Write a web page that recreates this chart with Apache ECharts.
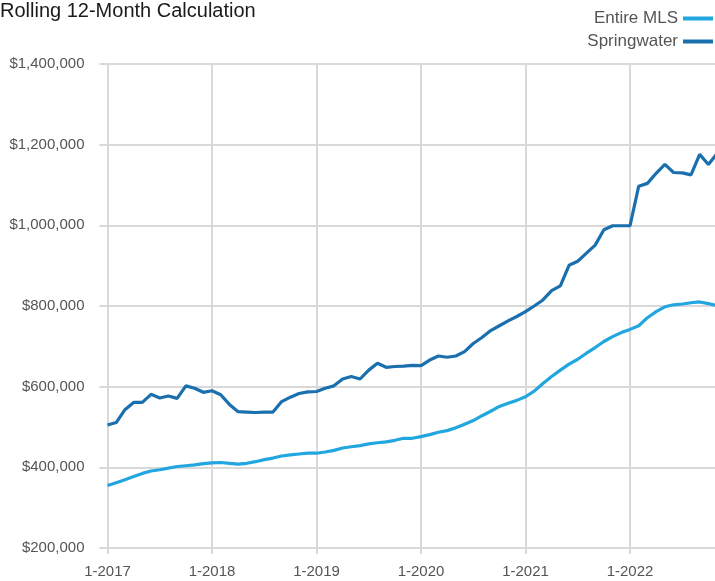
<!DOCTYPE html>
<html>
<head>
<meta charset="utf-8">
<script src="https://cdn.jsdelivr.net/npm/echarts@6/dist/echarts.min.js"></script>
<style>
  html, body { margin: 0; padding: 0; background: #fff; }
  #chart { width: 715px; height: 581px; }
</style>
</head>
<body>
<div id="chart"></div>
<script>
// monthly periods, Jan 2017 .. Nov 2022
var years = [2017, 2018, 2019, 2020, 2021, 2022];
var monthCount = 71;

// rolling 12-month average price
var entireMLS = [
  355, 362, 369, 377, 385, 391, 394, 398, 402, 404, 406, 409,
  411, 412, 410, 408, 410, 414, 419, 423, 428, 431, 433, 435,
  435, 438, 442, 448, 451, 454, 458, 461, 463, 467, 472, 472,
  476, 481, 487, 491, 498, 507, 516, 528, 539, 551, 559, 566,
  575, 589, 608, 625, 641, 656, 668, 683, 697, 712, 724, 734,
  742, 751, 771, 786, 798, 803, 805, 808, 810, 806, 801
];
var springwater = [
  505, 511, 543, 561, 561, 581, 572, 577, 571, 602, 596, 586,
  590, 580, 556, 538, 537, 536, 537, 537, 563, 574, 583, 587,
  588, 596, 602, 619, 625, 619, 641, 658, 648, 650, 651, 653,
  652, 666, 676, 673, 676, 687, 707, 722, 739, 751, 763, 774,
  786, 800, 815, 838, 850, 901, 911, 931, 951, 989, 999, 999,
  999, 1097, 1104, 1129, 1151, 1131, 1130, 1125, 1176, 1151, 1178
];

var categories = [];
for (var y = 0; y < years.length; y++) {
  for (var m = 1; m <= 12; m++) {
    if (categories.length < monthCount) categories.push(m + '-' + years[y]);
  }
}

function toDollars(arr) {
  return arr.map(function (v) { return v * 1000; });
}

var gridColor = '#d9d9d9';
var textColor = '#555';
var font = '"Liberation Sans", Arial, sans-serif';

var chart = echarts.init(document.getElementById('chart'));
chart.setOption({
  animation: false,
  title: {
    text: 'Rolling 12-Month Calculation',
    left: -5,
    top: -4,
    textStyle: { fontFamily: font, fontSize: 20, fontWeight: 'normal', color: '#1a1a1a' }
  },
  legend: {
    orient: 'vertical',
    right: -3,
    top: 5,
    align: 'right',
    itemWidth: 30,
    itemHeight: 4,
    itemGap: 6,
    icon: 'rect',
    textStyle: { fontFamily: font, fontSize: 17, color: textColor },
    data: ['Entire MLS', 'Springwater']
  },
  grid: {
    left: 107.5,
    top: 64,
    height: 484,
    width: 609.6,
    containLabel: false,
    outerBoundsMode: 'none'
  },
  xAxis: {
    type: 'category',
    boundaryGap: false,
    data: categories,
    axisLine: { lineStyle: { color: gridColor, width: 2 } },
    axisTick: { show: true, interval: 11, length: 6, lineStyle: { color: gridColor, width: 2 } },
    axisLabel: { interval: 11, margin: 16, fontFamily: font, fontSize: 15, color: textColor },
    splitLine: { show: true, interval: 11, lineStyle: { color: gridColor, width: 2 } }
  },
  yAxis: {
    type: 'value',
    min: 200000,
    max: 1400000,
    interval: 200000,
    axisLine: { show: false },
    axisTick: { show: true, length: 8, lineStyle: { color: gridColor, width: 2 } },
    axisLabel: {
      margin: 23,
      fontFamily: font,
      fontSize: 15,
      color: textColor,
      formatter: function (v) { return '$' + v.toLocaleString('en-US'); }
    },
    splitLine: { lineStyle: { color: gridColor, width: 2 } }
  },
  series: [
    {
      name: 'Entire MLS',
      type: 'line',
      data: toDollars(entireMLS),
      showSymbol: false,
      symbol: 'none',
      lineStyle: { width: 3.2, color: '#22a6df' },
      itemStyle: { color: '#22a6df' }
    },
    {
      name: 'Springwater',
      type: 'line',
      data: toDollars(springwater),
      showSymbol: false,
      symbol: 'none',
      lineStyle: { width: 3.2, color: '#1a70ae' },
      itemStyle: { color: '#1a70ae' }
    }
  ]
});
</script>
</body>
</html>
